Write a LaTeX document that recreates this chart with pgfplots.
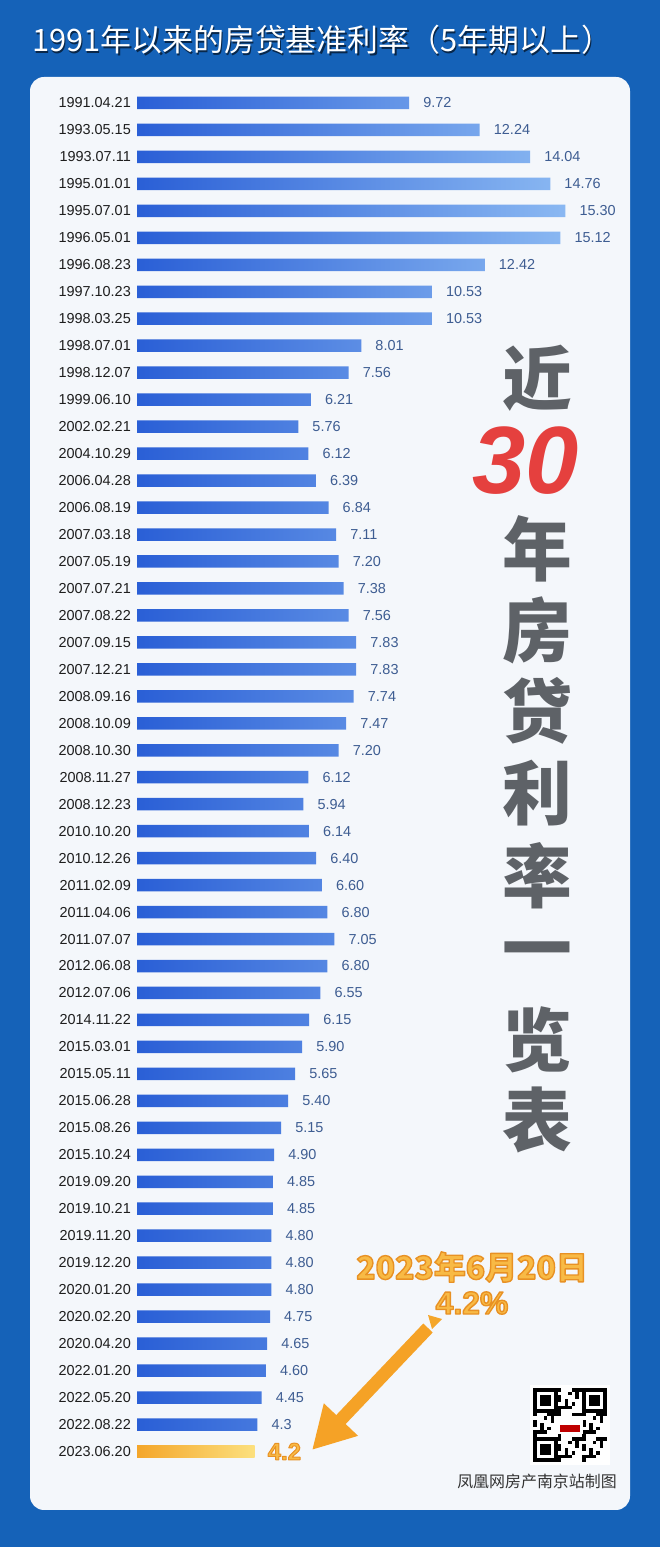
\documentclass[border=0pt]{standalone}
\usepackage{fontspec}
\setmainfont{Liberation Sans}
\newfontfamily\cjk{Noto Sans CJK SC}
\usepackage{pgfplots}
\usepackage{pgfplotstable}
\pgfplotsset{compat=1.18}
\usetikzlibrary{arrows.meta}

\definecolor{bgblue}{HTML}{1562B8}
\definecolor{panel}{HTML}{F4F7FB}
\definecolor{barL}{HTML}{2A5FD6}
\definecolor{barR}{HTML}{8AB8F2}
\definecolor{valcol}{HTML}{3E5D92}
\definecolor{datecol}{HTML}{1E1E1E}
\definecolor{orL}{HTML}{F4A62A}
\definecolor{orR}{HTML}{FCE07E}
\definecolor{ordark}{HTML}{E8982A}
\definecolor{orfill}{HTML}{F8BA45}
\definecolor{bigtext}{HTML}{5E6267}
\definecolor{red30}{HTML}{E5403E}

\pgfplotstableread[col sep=comma]{
idx,val,lab,date
0,9.72,9.72,1991.04.21
1,12.24,12.24,1993.05.15
2,14.04,14.04,1993.07.11
3,14.76,14.76,1995.01.01
4,15.30,15.30,1995.07.01
5,15.12,15.12,1996.05.01
6,12.42,12.42,1996.08.23
7,10.53,10.53,1997.10.23
8,10.53,10.53,1998.03.25
9,8.01,8.01,1998.07.01
10,7.56,7.56,1998.12.07
11,6.21,6.21,1999.06.10
12,5.76,5.76,2002.02.21
13,6.12,6.12,2004.10.29
14,6.39,6.39,2006.04.28
15,6.84,6.84,2006.08.19
16,7.11,7.11,2007.03.18
17,7.20,7.20,2007.05.19
18,7.38,7.38,2007.07.21
19,7.56,7.56,2007.08.22
20,7.83,7.83,2007.09.15
21,7.83,7.83,2007.12.21
22,7.74,7.74,2008.09.16
23,7.47,7.47,2008.10.09
24,7.20,7.20,2008.10.30
25,6.12,6.12,2008.11.27
26,5.94,5.94,2008.12.23
27,6.14,6.14,2010.10.20
28,6.40,6.40,2010.12.26
29,6.60,6.60,2011.02.09
30,6.80,6.80,2011.04.06
31,7.05,7.05,2011.07.07
32,6.80,6.80,2012.06.08
33,6.55,6.55,2012.07.06
34,6.15,6.15,2014.11.22
35,5.90,5.90,2015.03.01
36,5.65,5.65,2015.05.11
37,5.40,5.40,2015.06.28
38,5.15,5.15,2015.08.26
39,4.90,4.90,2015.10.24
40,4.85,4.85,2019.09.20
41,4.85,4.85,2019.10.21
42,4.80,4.80,2019.11.20
43,4.80,4.80,2019.12.20
44,4.80,4.80,2020.01.20
45,4.75,4.75,2020.02.20
46,4.65,4.65,2020.04.20
47,4.60,4.60,2022.01.20
48,4.45,4.45,2022.05.20
49,4.3,4.3,2022.08.22
50,4.2,4.2,2023.06.20
}\ratetable

% outlined text: fill + stroke rendering mode
\newcommand\outl[2][1.4]{\special{pdf:literal direct 0.91 0.57 0.14 RG #1 w 1 j 2 Tr}#2\special{pdf:literal direct 0 Tr}}

\begin{document}
\begin{tikzpicture}
% background and panel
\fill[bgblue] (0,0) rectangle (660bp,1547bp);
\fill[panel, rounded corners=14bp] (30bp,37bp) rectangle (630bp,1470bp);

% title
\node[text=black!60!bgblue, font=\cjk\fontsize{31}{31}\selectfont] at (323.5bp,1505.5bp) {1991年以来的房贷基准利率（5年期以上）};
\node[text=white, font=\cjk\fontsize{31}{31}\selectfont] at (322bp,1507bp) {1991年以来的房贷基准利率（5年期以上）};

\begin{axis}[
  at={(137bp,1457.5bp)}, anchor=north west,
  scale only axis, width=476bp, height=1375.5bp,
  xmin=0, xmax=17, ymin=-0.5, ymax=50.5, y dir=reverse,
  xbar, bar width=12.5bp, bar shift=0pt,
  axis line style={draw=none},
  xtick=\empty, ytick={0,...,50},
  yticklabels from table={\ratetable}{date},
  major tick length=0pt,
  yticklabel style={font=\fontsize{14.5}{14.5}\selectfont, text=datecol, inner sep=0pt, xshift=-6bp},
  clip=false,
  point meta=explicit symbolic,
]
\addplot[xbar, draw=none, left color=barL, right color=barR,
  skip coords between index={50}{51},
  nodes near coords, every node near coord/.append style={anchor=west, inner sep=0pt, xshift=14bp, text=valcol, font=\fontsize{14.5}{14.5}\selectfont}]
  table[x=val, y=idx, meta=lab] {\ratetable};
\addplot[xbar, draw=none, left color=orL, right color=orR,
  skip coords between index={0}{50},
  nodes near coords={\outl[1]{\pgfplotspointmeta}}, every node near coord/.append style={anchor=west, inner sep=0pt, xshift=13bp, text=orfill, font=\bfseries\fontsize{24}{24}\selectfont}]
  table[x=val, y=idx, meta=lab] {\ratetable};
\end{axis}

% big vertical title
\begin{scope}[every node/.style={inner sep=0pt, text=bigtext, font=\cjk\bfseries\fontsize{70}{70}\selectfont}]
\node at (537bp,1169bp) {近};
\node at (537bp,998bp) {年};
\node at (537bp,917bp) {房};
\node at (537bp,836bp) {贷};
\node at (537bp,754bp) {利};
\node at (537bp,671bp) {率};
\node at (537bp,589bp) {一};
\node at (537bp,507bp) {览};
\node at (537bp,427bp) {表};
\end{scope}
\node[inner sep=0pt, text=red30, font=\bfseries\itshape\fontsize{96}{96}\selectfont] at (526bp,1086bp) {30};

% annotation
\node[text=orfill, font=\cjk\bfseries\fontsize{32}{32}\selectfont] at (472bp,280bp) {\outl{2023年6月20日}};
\node[text=orfill, font=\bfseries\fontsize{32}{32}\selectfont] at (472bp,244bp) {\outl{4.2\%}};
\draw[orL!90!orange, line width=13bp, -{Triangle[length=42bp,width=44bp]}] (428bp,219bp) -- (312bp,97bp);
\fill[orL] (428bp,232bp) -- (442bp,228bp) -- (432bp,218bp) -- cycle;

% QR code
\begin{scope}[shift={(533bp,85bp)}]
\fill[white] (-3bp,-3bp) rectangle (77bp,77bp);
\foreach \i in {0,...,20}{\foreach \j in {0,...,20}{%
  \pgfmathtruncatemacro\v{mod(\i*\i*3+\j*7+\i*\j*5+\j*\j,7)}%
  \ifnum\v<3 \fill[black] (\i*3.5bp,\j*3.5bp) rectangle ++(3.5bp,3.5bp);\fi}}
\foreach \px/\py in {0/0,0/49,49/49}{
  \begin{scope}[shift={(\px bp,\py bp)}]
  \fill[white] (-0.5bp,-0.5bp) rectangle (25bp,25bp);
  \fill[black] (0,0) rectangle (24.5bp,24.5bp);
  \fill[white] (3.5bp,3.5bp) rectangle (21bp,21bp);
  \fill[black] (7bp,7bp) rectangle (17.5bp,17.5bp);
  \end{scope}}
\fill[white] (24bp,28bp) rectangle (50bp,46bp);
\fill[red!75!black] (27bp,30bp) rectangle (47bp,37bp);
\end{scope}

\node[text=black!80, font=\cjk\fontsize{16}{16}\selectfont] at (537bp,66bp) {凤凰网房产南京站制图};
\end{tikzpicture}
\end{document}
